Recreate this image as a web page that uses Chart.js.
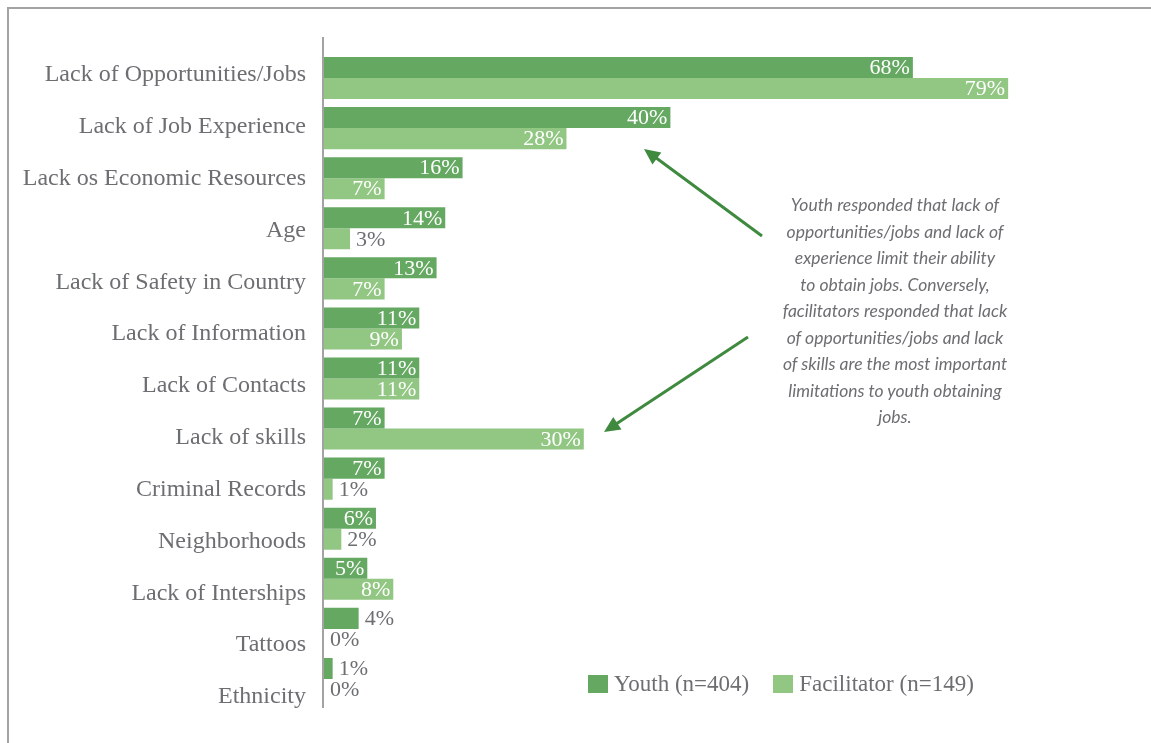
<!DOCTYPE html>
<html><head><meta charset="utf-8">
<script src="https://cdn.jsdelivr.net/npm/chart.js@4/dist/chart.umd.min.js"></script>
<style>
html,body{margin:0;padding:0;background:#fff;}
#wrap{position:relative;width:1151px;height:743px;overflow:hidden;}
#frame{position:absolute;left:7px;top:7px;width:1200px;height:800px;border-top:2px solid #a3a3a3;border-left:2px solid #a3a3a3;}
#c{position:absolute;left:0;top:0;}
#note{position:absolute;left:745px;top:192px;width:300px;text-align:center;font:italic 17.5px Lato;line-height:26.5px;color:#6d6e71;}
#legend{position:absolute;left:588px;top:671px;display:flex;align-items:center;font:23px "Liberation Serif";color:#6d6e71;white-space:nowrap;}
#legend .box{display:inline-block;width:20px;height:18px;margin-right:6px;}
#legend .item{display:flex;align-items:center;margin-right:24px;}
svg{position:absolute;left:0;top:0;}
</style></head>
<body><div id="wrap">
<div id="frame"></div>
<canvas id="c" width="1151" height="743"></canvas>
<svg width="1151" height="743" id="arrows"></svg>
<div id="note">Youth responded that lack of<br>opportunities/jobs and lack of<br>experience limit their ability<br>to obtain jobs. Conversely,<br>facilitators responded that lack<br>of opportunities/jobs and lack<br>of skills are the most important<br>limitations to youth obtaining<br>jobs.</div>
<div id="legend"></div>
</div>
<script>
const categories = ['Lack of Opportunities/Jobs','Lack of Job Experience','Lack os Economic Resources','Age','Lack of Safety in Country','Lack of Information','Lack of Contacts','Lack of skills','Criminal Records','Neighborhoods','Lack of Interships','Tattoos','Ethnicity'];
const youthValues = [68,40,16,14,13,11,11,7,7,6,5,4,1];
const facilitatorValues = [79,28,7,3,7,9,11,30,1,2,8,0,0];
const seriesNames = ['Youth (n=404)','Facilitator (n=149)'];
const seriesColors = ['#65a862','#92c683'];

const GRAY = '#6d6e71';
const SERIF = '"Liberation Serif", "DejaVu Serif", serif';
const LABEL_MIN = -0.4245, LABEL_MAX = 12.136;

// Legend
const lg = document.getElementById('legend');
seriesNames.forEach((n,i)=>{
  const it = document.createElement('span'); it.className='item';
  it.innerHTML = '<span class="box" style="background:'+seriesColors[i]+'"></span>'+n;
  lg.appendChild(it);
});

// Arrows (annotation)
function arrow(svg, x1,y1,x2,y2){
  const dx=x2-x1, dy=y2-y1, L=Math.hypot(dx,dy), ux=dx/L, uy=dy/L;
  const hl=16, hw=7.5;
  const bx=x2-ux*hl, by=y2-uy*hl;
  const ns='http://www.w3.org/2000/svg';
  const ln=document.createElementNS(ns,'line');
  ln.setAttribute('x1',x1);ln.setAttribute('y1',y1);ln.setAttribute('x2',bx+ux*2);ln.setAttribute('y2',by+uy*2);
  ln.setAttribute('stroke','#3f8a3f');ln.setAttribute('stroke-width','3');
  svg.appendChild(ln);
  const p=document.createElementNS(ns,'polygon');
  p.setAttribute('points',[x2,y2,bx-uy*hw,by+ux*hw,bx+uy*hw,by-ux*hw].join(' '));
  p.setAttribute('fill','#3f8a3f');
  svg.appendChild(p);
}
const svg=document.getElementById('arrows');
arrow(svg,762,236,644,149);
arrow(svg,748,337,604,432);

const axisLine = {
  id:'axisLine',
  beforeDatasetsDraw(chart){
    const {ctx, chartArea:a} = chart;
    ctx.save();
    ctx.strokeStyle='#a3a3a3'; ctx.lineWidth=2;
    ctx.beginPath(); ctx.moveTo(a.left-1, a.top-16); ctx.lineTo(a.left-1, a.bottom+4); ctx.stroke();
    ctx.restore();
  }
};
const valueLabels = {
  id:'valueLabels',
  afterDatasetsDraw(chart){
    const ctx=chart.ctx;
    ctx.save();
    ctx.font='22px '+SERIF;
    ctx.textBaseline='middle';
    chart.data.datasets.forEach((ds,di)=>{
      chart.getDatasetMeta(di).data.forEach((bar,i)=>{
        const t=ds.data[i]+'%';
        const w=ctx.measureText(t).width;
        const len=bar.x-bar.base;
        if(len>=w+10){ctx.fillStyle='#ffffff';ctx.textAlign='right';ctx.fillText(t,bar.x-3,bar.y+1);}
        else{ctx.fillStyle=GRAY;ctx.textAlign='left';ctx.fillText(t,bar.x+6,bar.y+1);}
      });
    });
    ctx.restore();
  }
};

new Chart(document.getElementById('c'),{
  type:'bar',
  data:{labels:categories,datasets:[
    {label:seriesNames[0],data:youthValues,backgroundColor:seriesColors[0],categoryPercentage:0.84,barPercentage:1.0,yAxisID:'y'},
    {label:seriesNames[1],data:facilitatorValues,backgroundColor:seriesColors[1],categoryPercentage:0.84,barPercentage:1.0,yAxisID:'y'}
  ]},
  options:{
    indexAxis:'y',responsive:false,animation:false,
    layout:{padding:{left:10,top:53,bottom:39,right:47.6}},
    plugins:{legend:{display:false},tooltip:{enabled:false}},
    scales:{
      x:{type:'linear',min:0,max:90,display:false},
      y:{type:'category',display:false,offset:true},
      yL:{type:'linear',axis:'y',position:'left',reverse:true,offset:false,bounds:'data',min:LABEL_MIN,max:LABEL_MAX,
        afterBuildTicks:s=>{s.ticks=categories.map((c,i)=>({value:i}));s.min=LABEL_MIN;s.max=LABEL_MAX;},
        afterFit:s=>{s.width=314;},
        grid:{display:false,drawTicks:false,offset:false},border:{display:false},
        ticks:{autoSkip:false,padding:18,color:GRAY,font:{family:SERIF,size:24},callback:v=>categories[v]}
      }
    }
  },
  plugins:[axisLine,valueLabels]
});
</script>
</body></html>
